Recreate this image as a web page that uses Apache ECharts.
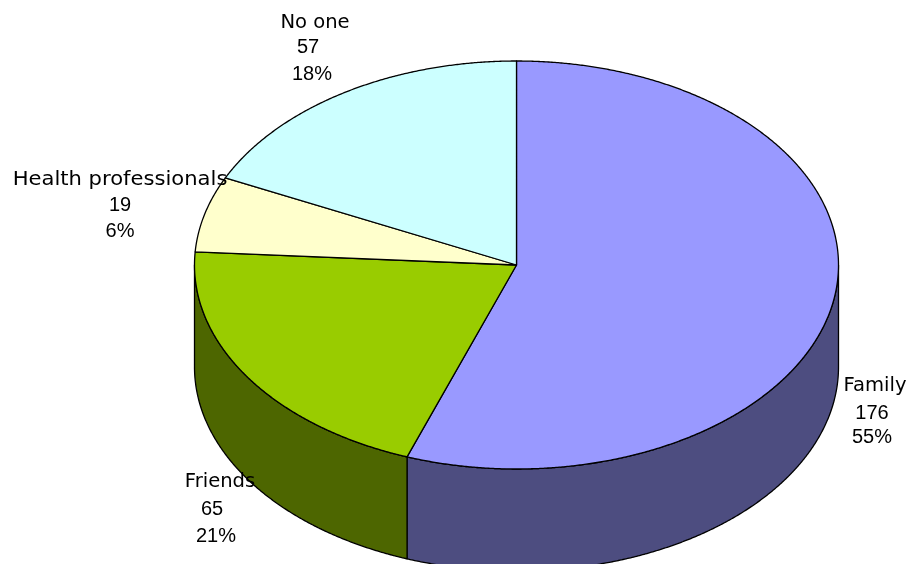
<!DOCTYPE html>
<html>
<head>
<meta charset="utf-8">
<style>html,body{margin:0;padding:0;background:#fff}#chart{width:909px;height:564px}</style>
<script src="https://cdn.jsdelivr.net/npm/echarts@6/dist/echarts.min.js"></script>
</head>
<body>
<div id="chart"></div>
<script>
// Data
const categories = ['Family', 'Friends', 'Health professionals', 'No one'];
const counts = [176, 65, 19, 57];
const percentLabels = ['55%', '21%', '6%', '18%'];

// Styling and layout
const topColors = ['#9999FF', '#99CC00', '#FFFFCC', '#CCFFFF'];
const sideColors = ['#4D4D80', '#4D6600', '#808066', '#668080'];
const pieGeom = { cx: 516.5, cy: 265, rx: 322, ry: 204, depth: 102 };
// x / y centre of each of the three label lines: name, count, percent
const labelLines = [
  [[875, 386], [872, 413], [872, 437]],
  [[220, 482], [212, 509], [216, 536]],
  [[120, 180], [120, 205], [120, 231]],
  [[315, 23], [308, 47], [312, 74]]
];
const nameStretch = [1.03, 1.03, 1.11, 1.03];
const nameFont = { fontFamily: '"DejaVu Sans"', fontSize: 19 };
const numberFont = { fontFamily: '"Liberation Sans"', fontSize: 20 };

const total = counts.reduce((a, b) => a + b, 0);
const spans = [];
counts.reduce((start, v, i) => {
  const end = start + v / total * 2 * Math.PI;
  spans[i] = [start, end];
  return end;
}, 0);

function rimPoint(theta, dy) {
  return [
    pieGeom.cx + pieGeom.rx * Math.sin(theta),
    pieGeom.cy - pieGeom.ry * Math.cos(theta) + dy
  ];
}
function arc(a, b, dy) {
  const n = Math.max(2, Math.ceil(Math.abs(b - a) / 0.005));
  const pts = [];
  for (let k = 0; k <= n; k++) pts.push(rimPoint(a + (b - a) * k / n, dy));
  return pts;
}
const lineStyle = { stroke: '#000', lineWidth: 1.3, lineJoin: 'round' };

function renderSide(params, api) {
  const i = api.value(0);
  const a = Math.max(spans[i][0], Math.PI / 2);
  const b = Math.min(spans[i][1], Math.PI * 1.5);
  if (a >= b) return { type: 'group', children: [] };
  const pts = arc(a, b, 0).concat(arc(b, a, pieGeom.depth));
  return {
    type: 'polygon',
    shape: { points: pts },
    style: Object.assign({ fill: sideColors[i] }, lineStyle)
  };
}
function renderTop(params, api) {
  const i = api.value(0);
  const pts = [[pieGeom.cx, pieGeom.cy]].concat(arc(spans[i][0], spans[i][1], 0));
  return {
    type: 'polygon',
    shape: { points: pts },
    style: Object.assign({ fill: topColors[i] }, lineStyle)
  };
}
function renderLabel(params, api) {
  const i = api.value(0);
  const texts = [categories[i], String(counts[i]), percentLabels[i]];
  return {
    type: 'group',
    children: texts.map((t, k) => ({
      type: 'text',
      x: labelLines[i][k][0],
      y: labelLines[i][k][1],
      scaleX: k === 0 ? nameStretch[i] : 1,
      style: Object.assign({
        text: t,
        x: 0,
        y: 0,
        fill: '#000',
        align: 'center',
        verticalAlign: 'middle'
      }, k === 0 ? nameFont : numberFont)
    }))
  };
}

const rows = categories.map((name, i) => ({ name, value: [i, counts[i]] }));
const common = { type: 'custom', coordinateSystem: 'none', silent: true, animation: false, clip: false, data: rows };
const chart = echarts.init(document.getElementById('chart'), null, { renderer: 'canvas' });
chart.setOption({
  animation: false,
  backgroundColor: '#fff',
  series: [
    Object.assign({ renderItem: renderSide, z: 1 }, common),
    Object.assign({ renderItem: renderTop, z: 2 }, common),
    Object.assign({ renderItem: renderLabel, z: 3 }, common)
  ]
});
</script>
</body>
</html>
